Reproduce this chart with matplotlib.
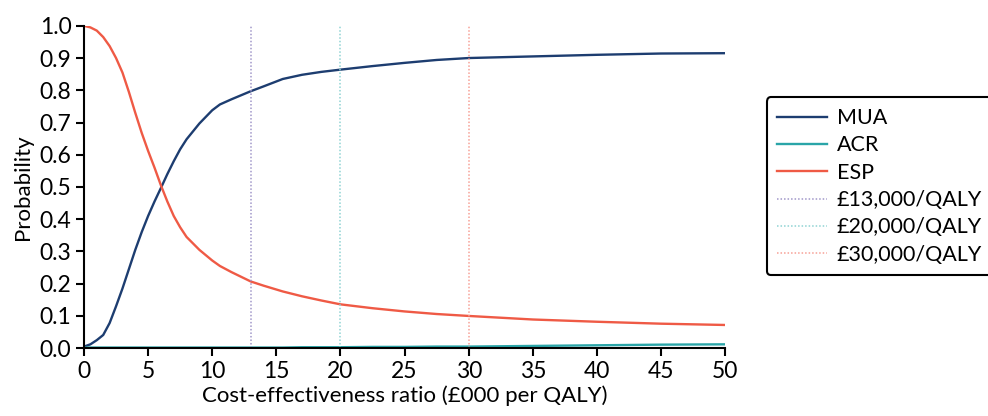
import numpy as np
import matplotlib.pyplot as plt

plt.rcParams["font.family"] = ["Lato", "DejaVu Sans"]

# cost-effectiveness thresholds (£000 per QALY)
wtp = [0, 0.5, 1.0, 1.5, 2.0, 2.5, 3.0, 3.5, 4.0, 4.5, 5.0, 5.5, 6.0, 6.5, 7.0, 7.5, 8.0,
       9.0, 10.0, 10.6, 11.5, 13.0, 14.0, 15.5, 17.0, 18.5, 20.0, 22.5, 25.0, 27.5, 30.0,
       35.0, 40.0, 45.0, 50.0]
mua = [0.005, 0.012, 0.025, 0.041, 0.078, 0.13, 0.185, 0.245, 0.305, 0.36, 0.41, 0.455,
       0.497, 0.54, 0.58, 0.617, 0.648, 0.697, 0.738, 0.756, 0.772, 0.797, 0.812, 0.835,
       0.848, 0.857, 0.864, 0.875, 0.885, 0.894, 0.900, 0.905, 0.910, 0.914, 0.915]
acr = [0.002, 0.002, 0.002, 0.002, 0.002, 0.002, 0.002, 0.002, 0.002, 0.002, 0.002, 0.002,
       0.002, 0.002, 0.002, 0.002, 0.002, 0.002, 0.002, 0.002, 0.002, 0.002, 0.002, 0.002,
       0.003, 0.003, 0.003, 0.004, 0.004, 0.005, 0.005, 0.007, 0.009, 0.011, 0.012]
esp = [1.0, 0.995, 0.985, 0.965, 0.937, 0.9, 0.855, 0.795, 0.73, 0.668, 0.612, 0.56,
       0.505, 0.455, 0.41, 0.375, 0.345, 0.305, 0.272, 0.255, 0.236, 0.207, 0.194, 0.176,
       0.161, 0.148, 0.136, 0.124, 0.114, 0.106, 0.100, 0.089, 0.082, 0.076, 0.072]

thresholds = [13, 20, 30]
thr_labels = ["£13,000/QALY", "£20,000/QALY", "£30,000/QALY"]
thr_colors = ["#a097c9", "#8fd3d3", "#f7a096"]

fig = plt.figure(figsize=(9.88, 4.16), dpi=100)
ax = fig.add_axes([0.085, 0.163, 0.649, 0.775])

ax.plot(wtp, mua, color="#1d3d70", lw=1.7, label="MUA")
ax.plot(wtp, acr, color="#2aa5a8", lw=1.7, label="ACR")
ax.plot(wtp, esp, color="#ef5a45", lw=1.7, label="ESP")
for t, lab, c in zip(thresholds, thr_labels, thr_colors):
    ax.plot([t, t], [0, 1], color=c, lw=1.1, ls=(0, (1, 1.3)), label=lab)

ax.set_xlim(0, 50)
ax.set_ylim(0, 1)
ax.set_xticks(np.arange(0, 51, 5))
ax.set_yticks(np.arange(0, 1.01, 0.1))
ax.set_yticklabels([f"{v:.1f}" for v in np.arange(0, 1.01, 0.1)])
ax.spines["top"].set_visible(False)
ax.spines["right"].set_visible(False)
ax.spines["left"].set_linewidth(1.5)
ax.spines["bottom"].set_linewidth(1.5)
ax.tick_params(labelsize=16.5, width=1.5, length=6, pad=3)
ax.set_xlabel("Cost-effectiveness ratio (£000 per QALY)", fontsize=16, labelpad=3)
ax.set_ylabel("Probability", fontsize=16, labelpad=5)

leg = fig.legend(loc="upper left", bbox_to_anchor=(0.776, 0.766), fontsize=15.5,
                 frameon=True, fancybox=True, edgecolor="black", framealpha=1,
                 handlelength=2.3, handletextpad=0.45, labelspacing=0.34,
                 borderpad=0.5, borderaxespad=0)
leg.get_frame().set_linewidth(1.5)

plt.savefig("out.png", dpi=100)
